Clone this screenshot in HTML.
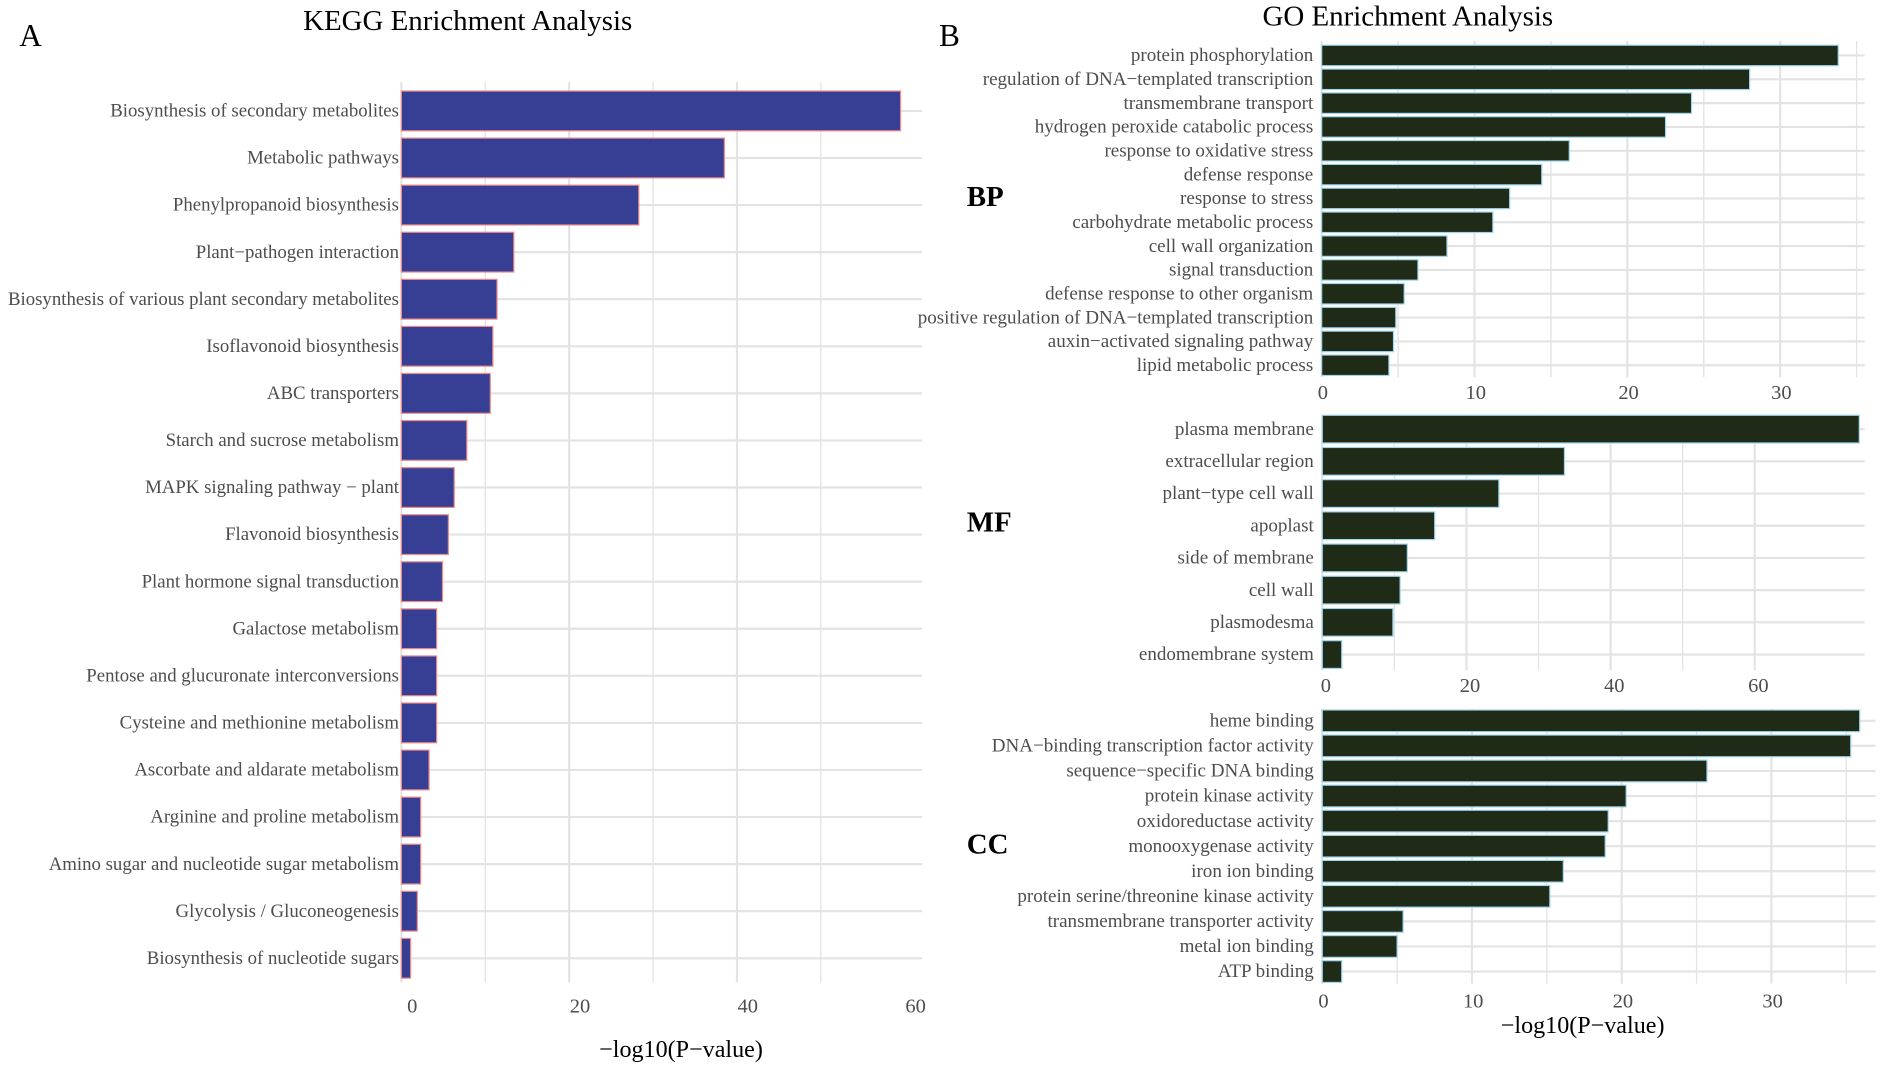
<!DOCTYPE html>
<html><head><meta charset="utf-8">
<style>
html,body{margin:0;padding:0;background:#fff;}
svg{display:block;}
text{font-family:"Liberation Serif",serif;}
</style></head>
<body>
<svg id="fig" width="1890" height="1071" viewBox="0 0 1568 888.5" xmlns="http://www.w3.org/2000/svg">
<rect width="1568" height="888.5" fill="#fff"/>
<text x="16" y="38" font-size="26" fill="#000">A</text>
<text x="779" y="38" font-size="26" fill="#000">B</text>
<text x="388" y="25" font-size="24" text-anchor="middle" fill="#000">KEGG Enrichment Analysis</text>
<text x="1168" y="21" font-size="24" text-anchor="middle" fill="#000">GO Enrichment Analysis</text>
<text x="802" y="171" font-size="24" font-weight="bold" fill="#000">BP</text>
<text x="802" y="441" font-size="24" font-weight="bold" fill="#000">MF</text>
<text x="802" y="708" font-size="24" font-weight="bold" fill="#000">CC</text>
<text x="565" y="877" font-size="20" text-anchor="middle" fill="#000">−log10(P−value)</text>
<text x="1313" y="857" font-size="20" text-anchor="middle" fill="#000">−log10(P−value)</text>
<g id="charts"></g>
</svg>
<script>
const keggCategories = ["Biosynthesis of secondary metabolites","Metabolic pathways","Phenylpropanoid biosynthesis","Plant−pathogen interaction","Biosynthesis of various plant secondary metabolites","Isoflavonoid biosynthesis","ABC transporters","Starch and sucrose metabolism","MAPK signaling pathway − plant","Flavonoid biosynthesis","Plant hormone signal transduction","Galactose metabolism","Pentose and glucuronate interconversions","Cysteine and methionine metabolism","Ascorbate and aldarate metabolism","Arginine and proline metabolism","Amino sugar and nucleotide sugar metabolism","Glycolysis / Gluconeogenesis","Biosynthesis of nucleotide sugars"];
const keggValues = [59.5,38.5,28.3,13.4,11.4,10.9,10.6,7.8,6.3,5.6,4.9,4.2,4.2,4.2,3.3,2.3,2.3,1.9,1.1];
const keggTicks = [0,20,40,60];

const bpCategories = ["protein phosphorylation","regulation of DNA−templated transcription","transmembrane transport","hydrogen peroxide catabolic process","response to oxidative stress","defense response","response to stress","carbohydrate metabolic process","cell wall organization","signal transduction","defense response to other organism","positive regulation of DNA−templated transcription","auxin−activated signaling pathway","lipid metabolic process"];
const bpValues = [33.8,28.0,24.2,22.5,16.2,14.4,12.3,11.2,8.2,6.3,5.4,4.85,4.7,4.4];
const bpTicks = [0,10,20,30];

const mfCategories = ["plasma membrane","extracellular region","plant−type cell wall","apoplast","side of membrane","cell wall","plasmodesma","endomembrane system"];
const mfValues = [74.5,33.6,24.5,15.6,11.8,10.8,9.8,2.7];
const mfTicks = [0,20,40,60];

const ccCategories = ["heme binding","DNA−binding transcription factor activity","sequence−specific DNA binding","protein kinase activity","oxidoreductase activity","monooxygenase activity","iron ion binding","protein serine/threonine kinase activity","transmembrane transporter activity","metal ion binding","ATP binding"];
const ccValues = [35.9,35.3,25.7,20.3,19.1,18.9,16.1,15.2,5.4,5.0,1.3];
const ccTicks = [0,10,20,30];

const NS = "http://www.w3.org/2000/svg";
const root = document.getElementById('charts');
function mk(tag, attrs, parent){ const e=document.createElementNS(NS,tag); for(const k in attrs) e.setAttribute(k,attrs[k]); parent.appendChild(e); return e; }

function panel(id, cats, vals, ticks, cfg){
  const g = mk('g',{},root);
  
  
  const x = v => cfg.x0 + v*cfg.pxPerUnit;
  const n = cats.length;
  const step = (cfg.yLast - cfg.yFirst)/(n-1);
  const y = i => cfg.yFirst + i*step;
  const maxV = (cfg.xRight - cfg.x0)/cfg.pxPerUnit;
  const tstep = ticks[1]-ticks[0];
  for(let v=0; v<=maxV+0.001; v+=tstep/2){
    const major = Math.abs(v/tstep - Math.round(v/tstep))<1e-6;
    const l = mk('line',{x1:x(v),x2:x(v),y1:cfg.top,y2:cfg.bottom,stroke:'#e3e3e3','stroke-width':major?1.8:1.1},g);
    
    
  }
  cats.forEach((c,i)=>{
    const l = mk('line',{x1:cfg.x0,x2:cfg.xRight+cfg.gridExtra,y1:y(i),y2:y(i),stroke:'#e3e3e3','stroke-width':1.8},g);
    
    
  });
  cats.forEach((c,i)=>{
    const r = mk('rect',{x:x(0),y:y(i)-cfg.bh/2,width:Math.max(0,x(vals[i])-x(0)),height:cfg.bh,fill:cfg.fill,stroke:cfg.stroke,'stroke-width':1},g);
    
    
    const t = mk('text',{x:cfg.x0-cfg.labOff,y:y(i)+cfg.fs*0.3,'font-size':cfg.fs,'text-anchor':'end',fill:'#4d4d4d'},g);
    t.textContent = c;
    
    
  });
  ticks.forEach(v=>{
    const t = mk('text',{x:x(v)+cfg.tickOff,y:cfg.tickY,'font-size':cfg.tfs,'text-anchor':'middle',fill:'#4d4d4d'},g);
    t.textContent = v;
    
    
  });
}

panel('kegg', keggCategories, keggValues, keggTicks, {x0:333, pxPerUnit:6.96, xRight:750, gridExtra:15, top:68, bottom:815, yFirst:92, yLast:795, bh:33, fill:'#373f95', stroke:'#f08a8a', fs:15.6, tfs:17, tickY:840, tickOff:9, labOff:2});
panel('bp', bpCategories, bpValues, bpTicks, {x0:1096.5, pxPerUnit:12.68, xRight:1541, gridExtra:6, top:34, bottom:313, yFirst:46, yLast:303, bh:17, fill:'#1f2a17', stroke:'#9fd6ec', fs:15.8, tfs:17, tickY:331, tickOff:1, labOff:7});
panel('mf', mfCategories, mfValues, mfTicks, {x0:1097, pxPerUnit:5.98, xRight:1513, gridExtra:34, top:344, bottom:556, yFirst:356, yLast:543, bh:23, fill:'#1f2a17', stroke:'#9fd6ec', fs:15.8, tfs:17, tickY:574, tickOff:3, labOff:7});
panel('cc', ccCategories, ccValues, ccTicks, {x0:1097, pxPerUnit:12.42, xRight:1532, gridExtra:24, top:588, bottom:816, yFirst:598, yLast:806, bh:18, fill:'#1f2a17', stroke:'#9fd6ec', fs:15.8, tfs:17, tickY:836, tickOff:1, labOff:7});
</script>
</body></html>
